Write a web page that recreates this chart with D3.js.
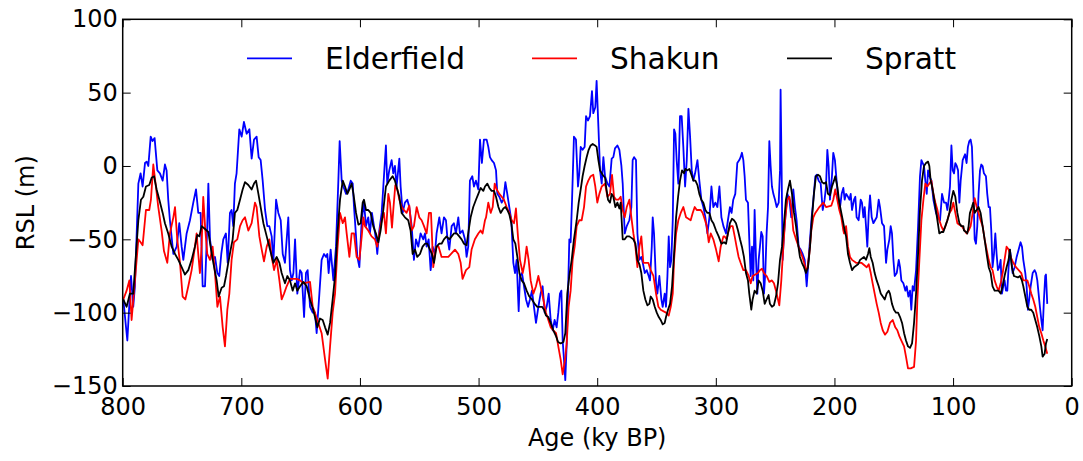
<!DOCTYPE html>
<html>
<head>
<meta charset="utf-8">
<title>RSL records</title>
<style>
  body { margin: 0; background: #fff; }
  text { font-family: "DejaVu Sans", sans-serif; fill: #000; }
</style>
</head>
<body>
<script src="https://cdn.jsdelivr.net/npm/d3@7/dist/d3.min.js"></script>
<script>

var width = 1083, height = 461;
var margin = {top: 19.3, right: 11.3, bottom: 75, left: 122.7};
var w = width - margin.left - margin.right,
    h = height - margin.top - margin.bottom;

// tick values / labels
var xTicks = [800, 700, 600, 500, 400, 300, 200, 100, 0];
var yTicks = [-150, -100, -50, 0, 50, 100];
var yTickLabels = ["\u2212150", "\u2212100", "\u221250", "0", "50", "100"];

var seriesNames = ["Elderfield", "Shakun", "Spratt"];
var seriesColors = ["#0000ff", "#ff0000", "#000000"];

// [age (ky BP), RSL (m)]
var elderfield = [[799.5,-91],[796.1,-119],[793.9,-87],[793.0,-75],[791.1,-96],[789.7,-82],[786.8,-12],[784.9,-5],[783.2,-14],[781.2,2],[779.8,3],[778.4,0],[776.4,20],[774.8,17],[773.1,19],[770.8,-3],[768.6,-5],[766.3,-10],[764.4,1],[763.0,-3],[761.6,-23],[760.2,-37],[757.3,-60],[754.5,-55],[752.3,-39],[750.3,-55],[748.9,-64],[746.1,-46],[743.3,-37],[740.5,-25],[738.2,-16],[736.3,-32],[734.3,-32],[732.6,-82],[730.6,-82],[728.7,-41],[727.8,-12],[726.4,-50],[724.2,-64],[722.2,-62],[720.2,-73],[718.6,-75],[716.9,-60],[715.2,-50],[713.0,-46],[711.5,-66],[709.6,-32],[708.2,-30],[706.8,-41],[705.4,-12],[704.0,-5],[701.7,25],[699.7,20],[697.8,30],[695.5,22],[693.2,25],[691.3,5],[689.3,18],[687.1,20],[685.4,6],[683.7,4],[682.0,-10],[680.0,-30],[678.1,-41],[676.4,-41],[674.4,-48],[673.0,-66],[670.7,-23],[668.8,-32],[666.8,-37],[665.1,-60],[663.2,-66],[660.4,-35],[659.0,-71],[657.5,-78],[656.1,-73],[654.7,-50],[652.8,-87],[650.5,-71],[649.1,-73],[647.1,-103],[645.5,-73],[644.1,-71],[642.1,-96],[639.8,-100],[637.9,-100],[636.5,-114],[634.2,-87],[632.3,-64],[630.3,-60],[628.6,-62],[627.5,-60],[626.4,-73],[624.7,-57],[622.4,-78],[620.2,-55],[618.2,-10],[617.1,17],[615.4,-10],[614.0,-14],[611.7,-19],[609.8,-16],[607.8,-10],[606.1,-12],[605.0,-28],[603.3,-48],[602.2,-62],[600.5,-69],[598.5,-37],[596.6,-25],[594.9,-41],[593.0,-35],[591.6,-46],[589.9,-32],[588.2,-41],[586.5,-50],[585.4,-60],[583.7,-44],[581.7,-32],[580.3,-14],[578.9,4],[578.1,14],[577.0,-12],[575.3,-3],[573.3,4],[571.9,-5],[570.5,0],[569.1,-14],[566.8,5],[565.7,-14],[564.0,-32],[562.1,-25],[560.1,-23],[558.4,-28],[556.4,-41],[554.5,-64],[552.8,-50],[550.8,-55],[548.9,-46],[546.6,-50],[545.2,-46],[543.8,-55],[542.1,-50],[540.4,-71],[538.7,-55],[536.8,-60],[535.4,-46],[533.1,-35],[531.2,-46],[529.2,-35],[527.5,-37],[526.4,-48],[524.7,-57],[522.7,-41],[520.8,-39],[519.1,-46],[517.1,-35],[515.7,-46],[513.5,-44],[511.5,-50],[510.1,-62],[508.7,-55],[507.3,-10],[505.3,-7],[503.9,-14],[502.2,-10],[500.2,-16],[498.8,18],[497.2,2],[495.5,18],[493.2,18],[491.8,13],[490.4,6],[489.0,4],[487.0,2],[485.3,-3],[484.2,-19],[482.5,-21],[480.5,-25],[479.1,-23],[477.4,-11],[475.8,-19],[474.1,-28],[472.4,-37],[470.7,-66],[469.3,-73],[467.9,-64],[466.2,-99],[465.1,-75],[463.4,-73],[461.7,-82],[460.0,-91],[458.3,-96],[456.7,-91],[455.0,-85],[453.3,-96],[451.6,-107],[449.6,-96],[447.7,-87],[446.0,-82],[444.3,-100],[442.6,-96],[440.9,-87],[439.2,-105],[437.5,-112],[435.9,-105],[434.2,-110],[432.8,-100],[431.4,-87],[430.2,-85],[429.1,-119],[428.0,-132],[426.9,-146],[425.7,-121],[424.6,-87],[423.5,-50],[422.4,-52],[421.2,-23],[419.6,20],[417.9,18],[416.2,-14],[415.1,-5],[413.9,13],[412.3,11],[410.6,13],[409.4,34],[407.8,31],[406.1,34],[404.4,51],[403.3,36],[401.6,40],[400.5,58],[399.0,27],[397.6,-3],[396.2,-12],[394.8,6],[393.4,-7],[391.4,-12],[389.7,-14],[387.8,5],[386.4,6],[385.0,12],[383.0,14],[381.3,11],[379.6,0],[378.5,-12],[376.8,-46],[375.1,-41],[372.9,-37],[371.2,-28],[370.1,4],[368.9,6],[367.3,4],[366.1,-46],[364.4,-64],[362.8,-62],[361.6,-66],[359.9,-73],[358.3,-71],[356.6,-75],[355.5,-78],[354.0,-55],[353.2,-35],[352.1,-46],[350.4,-80],[349.3,-87],[347.6,-75],[345.9,-91],[344.8,-96],[343.1,-87],[342.0,-96],[340.8,-75],[339.7,-48],[338.6,-69],[337.5,-64],[336.3,-37],[335.2,25],[334.1,22],[333.0,4],[331.6,-12],[330.2,34],[328.8,34],[327.4,13],[325.9,-14],[324.5,4],[323.1,39],[321.7,20],[320.3,-3],[318.9,-10],[317.5,-5],[315.5,4],[313.9,-10],[312.2,-23],[310.5,-28],[308.8,-35],[307.1,-46],[305.4,-35],[303.7,-14],[302.1,-28],[300.4,-25],[298.7,-28],[297.0,-14],[295.3,-35],[293.6,-41],[291.4,-46],[289.8,-37],[288.1,-28],[286.7,-32],[285.3,-23],[283.6,-19],[281.9,2],[280.2,4],[279.1,6],[278.0,9],[276.8,4],[275.7,-7],[274.6,-23],[272.9,-25],[271.8,-50],[270.6,-75],[269.5,-55],[268.4,-78],[267.3,-30],[266.1,-64],[265.0,-87],[263.9,-64],[262.8,-55],[261.7,-45],[260.5,-48],[259.4,-87],[258.3,-73],[257.2,-46],[256.0,-28],[254.9,17],[253.8,0],[252.7,-14],[251.5,-19],[250.1,-23],[248.7,-28],[247.0,-25],[245.9,-3],[245.4,52],[244.5,-5],[243.7,-64],[242.5,-46],[240.9,-30],[239.7,-19],[238.0,-23],[236.4,-35],[234.7,-16],[233.3,-28],[231.9,-37],[230.2,-55],[228.5,-57],[226.8,-60],[225.1,-64],[223.4,-82],[222.0,-66],[220.6,-50],[219.2,-35],[217.8,-23],[216.1,-7],[215.0,-6],[213.3,-10],[211.6,-12],[209.9,-30],[208.3,-23],[207.1,-14],[206.0,11],[204.9,0],[203.8,-23],[202.1,-7],[201.0,9],[199.6,4],[198.2,-10],[196.7,-23],[195.3,-28],[193.9,-19],[192.5,-15],[191.4,-23],[190.2,-19],[188.6,-21],[187.4,-23],[186.3,-19],[185.2,-30],[183.5,-23],[182.4,-21],[181.3,-35],[179.6,-37],[177.9,-23],[176.8,-25],[175.6,-35],[174.5,-28],[173.4,-41],[172.3,-55],[171.1,-32],[170.0,-20],[168.6,-35],[167.2,-39],[165.8,-37],[164.4,-35],[162.7,-23],[161.6,-28],[159.9,-39],[158.2,-41],[156.5,-66],[155.4,-57],[153.7,-50],[152.6,-41],[151.5,-46],[150.3,-64],[149.2,-75],[147.5,-73],[145.8,-64],[144.7,-69],[143.6,-78],[141.9,-80],[140.2,-85],[139.1,-82],[137.7,-89],[136.3,-85],[135.2,-98],[134.1,-82],[132.9,-85],[131.2,-71],[129.5,-41],[127.9,-7],[126.7,4],[125.6,2],[124.5,0],[123.4,-10],[122.2,-19],[121.1,-3],[120.0,-7],[118.3,-10],[116.6,-23],[114.4,-32],[112.7,-35],[111.0,-37],[109.3,-19],[107.6,-25],[105.9,-25],[104.8,-30],[103.7,-23],[102.6,-14],[101.4,14],[100.3,-3],[99.2,-5],[98.1,2],[96.9,0],[95.8,-3],[94.7,-25],[93.6,-10],[91.9,4],[89.9,8],[88.6,2],[87.5,13],[86.3,17],[85.2,18],[84.1,13],[83.0,-14],[81.8,-50],[80.7,-53],[79.6,-41],[78.5,-19],[77.3,-3],[76.2,1],[75.1,0],[74.0,-5],[72.3,-7],[71.2,-19],[70.0,-28],[68.9,-28],[67.8,-44],[66.7,-69],[65.5,-60],[64.4,-46],[63.3,-60],[62.2,-71],[61.0,-69],[59.9,-64],[58.8,-87],[57.7,-82],[56.6,-78],[55.4,-85],[54.3,-85],[53.2,-69],[52.1,-57],[50.9,-64],[49.8,-73],[48.1,-69],[46.4,-62],[44.7,-57],[43.1,-52],[41.9,-55],[40.8,-64],[39.1,-73],[38.0,-82],[36.9,-98],[35.8,-91],[34.6,-82],[32.9,-73],[31.3,-71],[30.1,-73],[29.0,-78],[27.9,-87],[26.8,-96],[25.6,-105],[24.5,-112],[23.4,-91],[22.3,-75],[21.7,-74],[20.6,-94]];

var shakun = [[799.5,-91],[796.7,-85],[794.4,-78],[792.5,-105],[789.7,-78],[786.8,-50],[784.9,-52],[783.2,-54],[780.4,-30],[777.6,-30],[776.2,-23],[774.2,1],[772.0,-14],[770.0,-28],[767.2,-44],[765.2,-58],[762.4,-66],[760.2,-46],[757.3,-35],[755.9,-28],[754.0,-50],[751.7,-66],[749.5,-89],[747.2,-91],[744.7,-82],[741.9,-71],[739.1,-55],[737.7,-46],[736.3,-60],[734.9,-73],[733.5,-55],[732.1,-21],[730.6,-41],[728.7,-60],[726.4,-64],[724.2,-55],[722.2,-73],[720.2,-96],[718.0,-89],[715.7,-110],[713.8,-123],[711.8,-98],[710.1,-87],[708.2,-64],[706.2,-52],[703.4,-50],[701.1,-41],[698.9,-37],[696.9,-35],[694.1,-44],[691.3,-39],[688.5,-25],[687.1,-28],[684.8,-48],[682.8,-57],[680.9,-65],[678.6,-55],[676.4,-50],[674.4,-62],[672.4,-71],[670.2,-64],[667.9,-78],[666.0,-91],[664.0,-87],[661.8,-82],[659.0,-77],[653.3,-77],[650.5,-78],[647.7,-80],[642.1,-79],[639.8,-96],[637.9,-100],[635.1,-107],[632.3,-114],[629.4,-132],[627.2,-145],[625.2,-123],[623.0,-100],[621.0,-87],[619.0,-57],[616.8,-32],[614.5,-39],[612.6,-35],[611.2,-46],[608.9,-62],[607.0,-46],[605.0,-46],[602.8,-62],[600.5,-64],[598.5,-48],[597.1,-35],[595.8,-41],[593.0,-44],[590.2,-48],[587.4,-50],[585.4,-55],[583.7,-46],[581.7,-37],[579.8,-32],[578.1,-46],[576.1,-19],[574.7,-25],[573.0,-42],[571.9,-30],[570.2,-13],[568.5,-16],[566.8,-23],[564.9,-28],[562.9,-30],[560.7,-32],[558.4,-27],[556.4,-44],[554.5,-41],[552.2,-28],[550.0,-35],[548.0,-37],[546.0,-41],[543.8,-46],[541.8,-32],[540.1,-32],[538.2,-69],[535.9,-55],[533.7,-55],[531.2,-62],[525.5,-62],[519.9,-57],[517.1,-60],[515.1,-66],[513.5,-77],[510.6,-71],[507.8,-69],[505.9,-57],[503.1,-50],[500.2,-46],[498.3,-44],[496.6,-46],[494.6,-37],[493.7,-35],[491.8,-25],[489.8,-32],[488.1,-28],[486.4,-12],[484.7,-16],[482.5,-19],[480.5,-21],[478.6,-23],[476.3,-28],[474.1,-32],[472.1,-37],[470.1,-39],[468.5,-29],[466.8,-48],[465.1,-64],[462.8,-73],[461.1,-66],[459.5,-55],[457.8,-64],[456.1,-78],[453.8,-87],[451.6,-82],[449.6,-75],[447.7,-82],[445.4,-91],[443.2,-100],[441.2,-105],[439.2,-110],[437.0,-112],[434.7,-114],[432.8,-123],[430.8,-132],[429.1,-142],[427.1,-132],[425.7,-121],[424.1,-96],[422.4,-85],[420.7,-64],[419.0,-55],[417.3,-41],[415.1,-37],[413.1,-37],[411.1,-28],[409.4,-14],[407.5,-10],[405.5,-7],[403.3,-6],[401.6,-14],[399.9,-25],[398.2,-19],[396.2,-14],[393.4,-12],[391.4,-21],[389.2,-19],[387.5,-6],[385.8,-21],[384.1,-23],[382.1,-23],[380.2,-21],[378.5,-30],[376.8,-35],[375.1,-28],[372.9,-23],[371.2,-35],[369.5,-46],[367.8,-55],[366.1,-69],[364.4,-55],[362.8,-48],[361.1,-66],[356.9,-66],[354.9,-71],[352.6,-75],[350.4,-87],[348.4,-96],[346.5,-98],[342.0,-100],[339.7,-102],[338.0,-96],[336.3,-87],[335.2,-64],[333.5,-46],[331.6,-37],[329.6,-32],[327.4,-28],[325.1,-35],[321.2,-37],[319.5,-32],[317.8,-28],[316.1,-30],[312.7,-30],[311.1,-32],[309.1,-37],[307.7,-41],[306.0,-52],[304.3,-46],[302.1,-50],[299.8,-57],[297.6,-65],[295.9,-55],[293.6,-48],[292.6,-48],[290.9,-50],[289.2,-44],[287.5,-41],[285.8,-41],[284.1,-48],[282.5,-55],[280.8,-62],[279.1,-66],[276.8,-71],[274.6,-71],[272.3,-75],[270.6,-80],[269.0,-75],[266.7,-74],[264.5,-73],[262.8,-71],[261.1,-70],[259.4,-73],[257.2,-75],[254.9,-79],[252.7,-78],[251.0,-80],[249.3,-85],[247.6,-91],[246.5,-95],[244.8,-78],[243.1,-55],[241.4,-35],[239.7,-23],[238.0,-21],[236.4,-28],[234.7,-44],[232.4,-50],[230.2,-55],[227.9,-60],[226.2,-64],[224.0,-71],[222.9,-70],[221.2,-60],[219.5,-44],[217.8,-35],[216.1,-32],[214.4,-30],[212.7,-28],[209.4,-25],[207.1,-28],[202.6,-27],[201.0,-23],[199.3,-16],[197.6,-23],[195.9,-30],[194.2,-35],[192.5,-44],[191.9,-46],[190.2,-41],[188.6,-55],[186.9,-62],[185.2,-64],[181.8,-66],[177.3,-66],[172.8,-69],[171.1,-67],[169.4,-73],[167.8,-80],[166.1,-87],[164.4,-94],[162.7,-100],[161.0,-107],[159.3,-112],[157.4,-115],[155.4,-113],[153.2,-107],[150.9,-105],[148.7,-110],[147.0,-112],[145.3,-116],[143.6,-119],[141.3,-123],[139.7,-130],[138.0,-138],[135.7,-138],[132.9,-137],[131.2,-119],[130.1,-91],[128.4,-64],[126.7,-37],[125.0,-23],[123.4,-12],[121.7,-14],[120.0,-12],[118.3,-10],[116.6,-19],[114.9,-25],[113.2,-30],[111.6,-37],[109.9,-41],[108.2,-44],[106.5,-41],[104.8,-37],[103.1,-32],[101.4,-30],[99.8,-25],[98.1,-32],[96.4,-39],[94.7,-40],[92.7,-41],[90.3,-44],[88.6,-46],[86.9,-44],[85.2,-41],[83.5,-32],[81.8,-22],[80.1,-28],[78.5,-32],[76.8,-37],[75.1,-41],[73.4,-50],[71.7,-57],[70.0,-64],[68.3,-69],[66.7,-71],[65.0,-78],[63.3,-82],[61.6,-85],[59.9,-80],[58.2,-73],[56.6,-64],[54.9,-55],[53.2,-57],[51.5,-62],[49.2,-66],[47.0,-69],[44.7,-71],[42.5,-73],[40.8,-78],[37.4,-78],[35.8,-82],[34.1,-87],[32.4,-91],[30.7,-96],[29.0,-103],[27.3,-110],[25.6,-114],[23.9,-119],[22.3,-123],[20.6,-128]];

var spratt = [[799.5,-91],[796.7,-96],[793.9,-87],[791.1,-87],[788.8,-60],[786.8,-37],[784.6,-23],[782.6,-21],[780.4,-14],[777.6,-13],[775.6,-8],[773.6,-7],[771.4,-16],[769.1,-23],[766.3,-32],[764.4,-39],[761.6,-46],[758.7,-55],[755.9,-60],[753.1,-64],[750.3,-69],[747.5,-74],[744.7,-71],[741.9,-64],[739.1,-55],[737.1,-47],[735.4,-48],[733.5,-41],[730.6,-43],[727.8,-45],[725.9,-55],[723.6,-66],[720.8,-78],[719.1,-89],[716.6,-83],[714.6,-82],[712.9,-75],[711.0,-66],[709.0,-57],[707.3,-50],[705.4,-32],[703.4,-30],[701.1,-23],[698.9,-16],[696.9,-11],[694.1,-13],[691.3,-16],[689.3,-12],[687.6,-10],[685.6,-19],[683.7,-28],[681.4,-39],[678.6,-48],[675.8,-57],[673.0,-66],[670.2,-62],[667.9,-66],[666.0,-73],[663.2,-80],[661.2,-75],[659.0,-78],[656.7,-85],[654.7,-80],[652.8,-85],[650.5,-82],[647.7,-79],[644.9,-82],[642.1,-91],[639.8,-97],[637.9,-103],[635.9,-110],[633.7,-104],[631.4,-105],[629.4,-110],[627.2,-115],[625.2,-107],[623.0,-91],[621.0,-75],[619.0,-46],[616.8,-23],[614.5,-10],[612.6,-14],[610.6,-19],[608.9,-16],[607.0,-12],[605.5,-19],[603.3,-32],[601.3,-40],[599.4,-39],[597.7,-25],[596.6,-23],[594.9,-30],[593.0,-30],[591.0,-32],[588.8,-41],[586.5,-46],[584.5,-52],[582.6,-44],[580.3,-30],[578.1,-14],[575.3,-10],[572.5,-7],[570.5,-10],[568.5,-16],[566.8,-21],[564.9,-32],[562.1,-35],[559.3,-37],[557.3,-44],[555.6,-60],[553.6,-57],[551.7,-62],[549.4,-60],[547.2,-55],[545.2,-53],[543.2,-53],[541.0,-57],[539.3,-60],[537.6,-66],[535.4,-55],[533.1,-53],[531.2,-53],[529.2,-50],[527.0,-48],[524.7,-50],[522.7,-48],[520.8,-46],[518.5,-46],[516.3,-48],[514.3,-50],[512.3,-53],[510.1,-54],[508.4,-44],[506.7,-35],[504.5,-28],[502.2,-23],[500.2,-19],[498.3,-15],[496.0,-17],[494.6,-14],[492.6,-12],[490.9,-15],[489.0,-17],[487.0,-17],[485.3,-21],[483.3,-28],[481.4,-32],[479.1,-29],[477.4,-28],[475.8,-30],[474.1,-33],[472.4,-39],[470.7,-50],[469.0,-53],[467.3,-62],[465.6,-73],[463.7,-78],[461.7,-80],[459.5,-85],[457.2,-89],[455.0,-91],[452.7,-94],[450.5,-96],[446.5,-96],[444.8,-98],[443.2,-102],[441.2,-103],[439.2,-107],[437.0,-112],[434.7,-116],[433.0,-120],[430.8,-121],[428.5,-120],[426.9,-114],[425.2,-87],[423.5,-75],[421.5,-64],[419.6,-50],[417.3,-37],[415.6,-25],[413.9,-16],[412.3,-7],[410.6,0],[408.9,6],[407.2,11],[405.5,14],[403.8,15],[401.9,14],[400.5,13],[399.0,4],[397.6,-3],[395.4,-6],[393.4,-8],[392.5,-14],[390.9,-23],[389.2,-25],[387.8,-19],[386.4,-21],[384.7,-28],[383.0,-25],[381.3,-29],[380.2,-25],[378.5,-50],[376.8,-50],[375.1,-48],[372.9,-48],[371.2,-49],[369.5,-50],[367.8,-53],[366.1,-64],[364.4,-67],[362.8,-73],[361.1,-85],[359.4,-91],[357.7,-95],[356.0,-94],[354.9,-89],[353.2,-91],[351.5,-96],[349.8,-100],[348.1,-103],[346.5,-105],[344.8,-108],[343.1,-107],[342.0,-103],[340.3,-98],[338.6,-94],[336.9,-82],[335.2,-60],[333.5,-35],[331.8,-21],[330.2,-10],[328.5,-3],[326.8,-5],[325.7,-2],[324.0,-3],[322.3,-2],[320.6,-6],[318.9,-10],[317.2,-10],[315.5,-13],[313.9,-19],[312.2,-23],[310.5,-25],[308.8,-30],[307.1,-32],[305.4,-32],[303.7,-37],[302.1,-39],[299.8,-44],[297.6,-48],[295.3,-53],[293.1,-52],[291.4,-53],[289.8,-46],[288.1,-39],[286.4,-36],[284.7,-37],[283.0,-39],[281.3,-44],[279.6,-50],[278.0,-55],[276.3,-62],[274.6,-73],[272.9,-78],[271.8,-87],[270.1,-98],[269.0,-91],[267.3,-85],[265.6,-87],[263.9,-78],[262.2,-80],[260.5,-85],[258.8,-94],[257.2,-91],[255.5,-88],[254.4,-94],[252.7,-96],[251.0,-95],[249.3,-89],[247.6,-80],[245.9,-64],[244.2,-55],[242.5,-39],[240.9,-23],[239.2,-16],[237.5,-10],[235.8,-19],[234.1,-32],[232.4,-41],[230.7,-53],[229.1,-62],[227.4,-66],[225.7,-69],[224.0,-73],[222.3,-69],[220.6,-55],[218.9,-35],[217.3,-19],[215.6,-7],[213.9,-6],[212.2,-7],[210.5,-11],[208.8,-12],[207.1,-11],[205.5,-19],[203.8,-20],[202.1,-14],[200.4,-10],[199.3,-7],[197.6,-14],[195.9,-25],[194.2,-32],[192.5,-39],[191.4,-44],[190.2,-48],[188.6,-60],[186.9,-66],[185.2,-71],[183.5,-69],[180.1,-67],[178.4,-64],[175.1,-62],[173.4,-64],[171.7,-60],[170.6,-56],[169.4,-62],[167.8,-66],[166.1,-73],[164.4,-78],[162.7,-82],[161.0,-87],[159.3,-89],[157.6,-91],[156.0,-87],[154.3,-85],[153.2,-87],[151.5,-94],[149.8,-98],[148.1,-100],[146.4,-100],[144.7,-103],[143.0,-107],[141.3,-114],[139.7,-119],[138.0,-123],[136.3,-124],[134.6,-121],[132.9,-107],[131.2,-87],[129.5,-60],[127.9,-30],[126.2,-10],[124.5,0],[122.8,2],[121.1,3],[120.0,0],[118.9,-10],[117.7,-14],[116.6,-19],[114.9,-28],[113.2,-37],[111.6,-46],[109.9,-45],[108.2,-45],[106.5,-41],[104.8,-37],[103.1,-32],[101.4,-23],[99.8,-17],[98.1,-21],[96.4,-32],[94.7,-39],[93.0,-41],[91.3,-41],[90.8,-44],[89.1,-45],[88.0,-46],[86.9,-41],[85.8,-32],[84.1,-28],[83.0,-25],[81.8,-32],[80.1,-30],[78.5,-28],[76.8,-32],[75.1,-41],[73.4,-50],[71.7,-60],[70.0,-69],[68.3,-73],[66.7,-82],[65.0,-85],[61.6,-85],[59.9,-87],[58.2,-82],[56.6,-75],[54.9,-69],[53.2,-64],[52.1,-57],[50.4,-69],[48.7,-75],[45.3,-76],[43.6,-75],[42.0,-78],[40.8,-82],[39.1,-89],[37.4,-96],[35.8,-98],[34.1,-98],[32.4,-100],[30.7,-105],[29.0,-110],[27.3,-116],[25.6,-123],[24.5,-130],[22.8,-128],[21.7,-121],[20.6,-118]];

var svg = d3.select("body").append("svg")
    .attr("width", width)
    .attr("height", height);

var g = svg.append("g")
    .attr("transform", "translate(" + margin.left + "," + margin.top + ")");

var x = d3.scaleLinear().domain([800, 0]).range([0, w]);
var y = d3.scaleLinear().domain([-150, 100]).range([h, 0]);

// lines first, frame and ticks drawn on top
var line = d3.line()
    .x(function(d){ return x(d[0]); })
    .y(function(d){ return y(d[1]); });

var allSeries = [elderfield, shakun, spratt];
g.selectAll("path.series").data(allSeries)
    .enter().append("path")
    .attr("class", "series")
    .attr("d", line)
    .attr("fill", "none")
    .attr("stroke", function(d, i){ return seriesColors[i]; })
    .attr("stroke-width", 1.8)
    .attr("stroke-linejoin", "round");

// axes: ticks point inward on all four sides
var fontSize = 24;
var xAxis = d3.axisBottom(x).tickValues(xTicks).tickSizeInner(-8).tickSizeOuter(0).tickPadding(12);
var yAxis = d3.axisLeft(y).tickValues(yTicks).tickSizeInner(-8).tickSizeOuter(0).tickPadding(5)
    .tickFormat(function(d, i){ return yTickLabels[i]; });
var xTop = d3.axisTop(x).tickValues(xTicks).tickSizeInner(-8).tickSizeOuter(0).tickFormat("");
var yRight = d3.axisRight(y).tickValues(yTicks).tickSizeInner(-8).tickSizeOuter(0).tickFormat("");

g.append("g").attr("transform", "translate(0," + h + ")").call(xAxis);
g.append("g").call(yAxis);
g.append("g").call(xTop);
g.append("g").attr("transform", "translate(" + w + ",0)").call(yRight);

g.selectAll(".domain").remove();
g.selectAll(".tick line").attr("stroke", "#000").attr("stroke-width", 1);
g.selectAll(".tick text")
    .attr("fill", "#000")
    .style("font-family", "'DejaVu Sans', sans-serif")
    .style("font-size", fontSize + "px");

g.append("rect")
    .attr("width", w).attr("height", h)
    .attr("fill", "none")
    .attr("stroke", "#000")
    .attr("stroke-width", 1.5);

// axis titles
svg.append("text")
    .attr("x", margin.left + w / 2)
    .attr("y", 446)
    .attr("text-anchor", "middle")
    .style("font-size", fontSize + "px")
    .text("Age (ky BP)");

svg.append("text")
    .attr("transform", "translate(34," + (margin.top + h / 2) + ") rotate(-90)")
    .attr("text-anchor", "middle")
    .style("font-size", fontSize + "px")
    .text("RSL (m)");

// legend, no frame
var legendX = [247, 532, 787];
var legend = svg.selectAll("g.legend").data(seriesNames)
    .enter().append("g")
    .attr("class", "legend")
    .attr("transform", function(d, i){ return "translate(" + legendX[i] + ",58.3)"; });

legend.append("line")
    .attr("x1", 0).attr("x2", 45)
    .attr("stroke", function(d, i){ return seriesColors[i]; })
    .attr("stroke-width", 1.8);

legend.append("text")
    .attr("x", 78)
    .attr("y", 10.8)
    .style("font-size", "29.6px")
    .text(function(d){ return d; });

</script>
</body>
</html>
